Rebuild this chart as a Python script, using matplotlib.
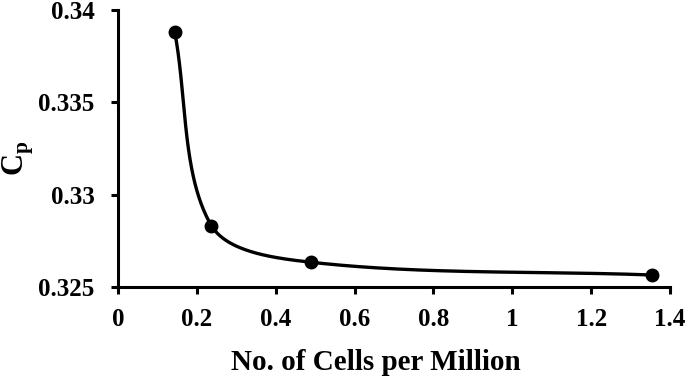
#!/usr/bin/env python3

import matplotlib

matplotlib.use("Agg")
import matplotlib.pyplot as plt
import numpy as np

cells_million = [0.144, 0.237, 0.490, 1.354]
cp_values = [0.33879, 0.32832, 0.32634, 0.32565]

x_ticks = [0, 0.2, 0.4, 0.6, 0.8, 1, 1.2, 1.4]
x_tick_labels = ["0", "0.2", "0.4", "0.6", "0.8", "1", "1.2", "1.4"]
y_ticks = [0.325, 0.33, 0.335, 0.34]
y_tick_labels = ["0.325", "0.33", "0.335", "0.34"]


def smooth_curve(x, y, sx, sy, n=80):
    # bezier smoothing in pixel-scaled space, tangents weighted by segment lengths
    pts = np.column_stack([np.asarray(x, dtype=float) * sx, np.asarray(y, dtype=float) * sy])
    out = [pts[0]]
    for i in range(len(pts) - 1):
        p0 = pts[i - 1] if i > 0 else pts[i]
        p1 = pts[i]
        p2 = pts[i + 1]
        p3 = pts[i + 2] if i + 2 < len(pts) else pts[i + 1]
        d01 = np.hypot(*(p1 - p0))
        d12 = np.hypot(*(p2 - p1))
        d23 = np.hypot(*(p3 - p2))
        c1 = p1 + (p2 - p0) * d12 / (3.0 * (d01 + d12))
        c2 = p2 - (p3 - p1) * d12 / (3.0 * (d12 + d23))
        t = np.linspace(0, 1, n)[1:, None]
        seg = ((1 - t) ** 3) * p1 + 3 * ((1 - t) ** 2) * t * c1 + 3 * (1 - t) * t ** 2 * c2 + t ** 3 * p2
        out.extend(seg)
    out = np.array(out)
    return out[:, 0] / sx, out[:, 1] / sy


plt.rcParams["font.family"] = ["Liberation Serif", "DejaVu Serif"]
plt.rcParams["font.weight"] = "bold"

fig = plt.figure(figsize=(6.85, 3.81), dpi=100)
ax = fig.add_axes([118 / 685, 94 / 381, 552 / 685, 277 / 381])

xs, ys = smooth_curve(cells_million, cp_values, 552 / 1.4, 277 / 0.015)
ax.plot(xs, ys, color="black", linewidth=2.4, solid_capstyle="round")
ax.plot(cells_million, cp_values, "o", color="black", markersize=9)

ax.set_xlim(0, 1.4)
ax.set_ylim(0.325, 0.34)
ax.set_xticks(x_ticks)
ax.set_xticklabels(x_tick_labels)
ax.set_yticks(y_ticks)
ax.set_yticklabels(y_tick_labels)

for side in ["top", "right"]:
    ax.spines[side].set_visible(False)
for side in ["left", "bottom"]:
    ax.spines[side].set_linewidth(2.2)
ax.tick_params(axis="both", direction="out", length=5, width=2.2, labelsize=18)
ax.tick_params(axis="x", pad=10)
ax.tick_params(axis="y", pad=12)

fig.text(376 / 685, 1 - 362 / 381, "No. of Cells per Million", ha="center", va="center",
         fontsize=21, fontweight="bold")
fig.text(18 / 685, 1 - 158 / 381, r"C$_\mathregular{p}$", ha="center", va="center",
         rotation=90, fontsize=22, fontweight="bold")

fig.savefig("out.png", dpi=100)
plt.close(fig)
